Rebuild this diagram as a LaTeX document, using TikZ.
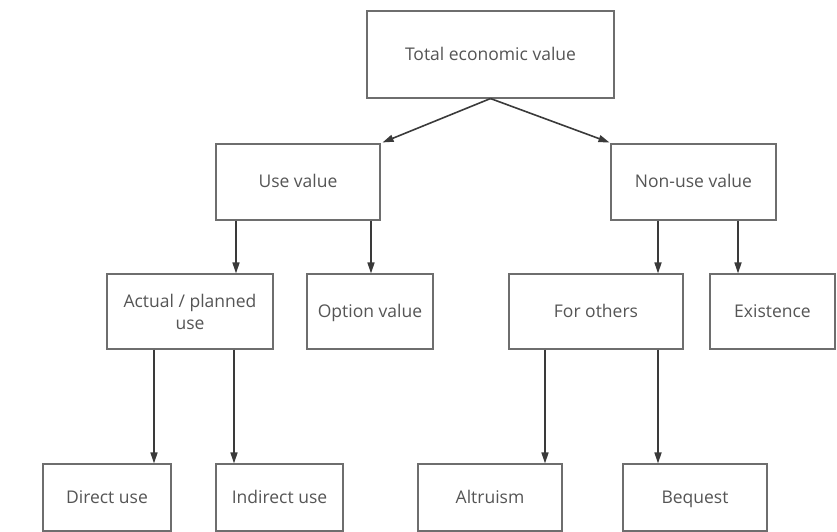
\documentclass[tikz,border=0pt]{standalone}
\usepackage{fontspec}
\setmainfont{Open Sans}
\usetikzlibrary{arrows.meta}
\definecolor{boxline}{HTML}{6E6E6E}
\definecolor{txt}{HTML}{555555}
\definecolor{arr}{HTML}{3A3A3A}
\begin{document}
\begin{tikzpicture}[x=1pt,y=1pt,
  box/.style={draw=boxline, line width=1.1pt, fill=white, text=txt, align=center,
    inner sep=0pt, font=\fontsize{17.5}{22}\selectfont},
  one/.style={text height=14pt, text depth=2pt},
  conn/.style={draw=arr, line width=1.6pt, -{Triangle[length=11pt,width=7pt]}}]
\useasboundingbox (0,0) rectangle (837,532);
\node[box, one, minimum width=247pt, minimum height=87pt] (tev) at (490.5,477.5) {Total economic value};
\node[box, one, minimum width=164pt, minimum height=76pt] (use) at (298,350) {Use value};
\node[box, one, minimum width=165pt, minimum height=76pt] (nonuse) at (693.5,350) {Non-use value};
\node[box, minimum width=166pt, minimum height=75pt] (actual) at (190,220.5) {Actual / planned\\use};
\node[box, one, minimum width=126pt, minimum height=75pt] (option) at (370,220.5) {Option value};
\node[box, one, minimum width=174pt, minimum height=75pt] (others) at (596,220.5) {For others};
\node[box, one, minimum width=125pt, minimum height=75pt] (exist) at (772.5,220.5) {Existence};
\node[box, one, minimum width=128pt, minimum height=67pt] (direct) at (107,34.5) {Direct use};
\node[box, one, minimum width=127pt, minimum height=67pt] (indirect) at (279.5,34.5) {Indirect use};
\node[box, one, minimum width=144pt, minimum height=67pt] (altru) at (490,34.5) {Altruism};
\node[box, one, minimum width=144pt, minimum height=67pt] (beq) at (695,34.5) {Bequest};
% connectors
\draw[conn] (tev.south) -- ([xshift=2pt,yshift=1pt]use.north east);
\draw[conn] (tev.south) -- ([xshift=-1pt,yshift=1pt]nonuse.north west);
\draw[conn] ([xshift=-62pt]use.south) -- ([xshift=46pt]actual.north);
\draw[conn] ([xshift=73pt]use.south) -- ([xshift=1pt]option.north);
\draw[conn] ([xshift=-35.5pt]nonuse.south) -- ([xshift=62pt]others.north);
\draw[conn] ([xshift=44.5pt]nonuse.south) -- ([xshift=-34.5pt]exist.north);
\draw[conn] ([xshift=-36pt]actual.south) -- ([xshift=47pt]direct.north);
\draw[conn] ([xshift=44pt]actual.south) -- ([xshift=-45.5pt]indirect.north);
\draw[conn] ([xshift=-51pt]others.south) -- ([xshift=55pt]altru.north);
\draw[conn] ([xshift=62pt]others.south) -- ([xshift=-37pt]beq.north);
\end{tikzpicture}
\end{document}
